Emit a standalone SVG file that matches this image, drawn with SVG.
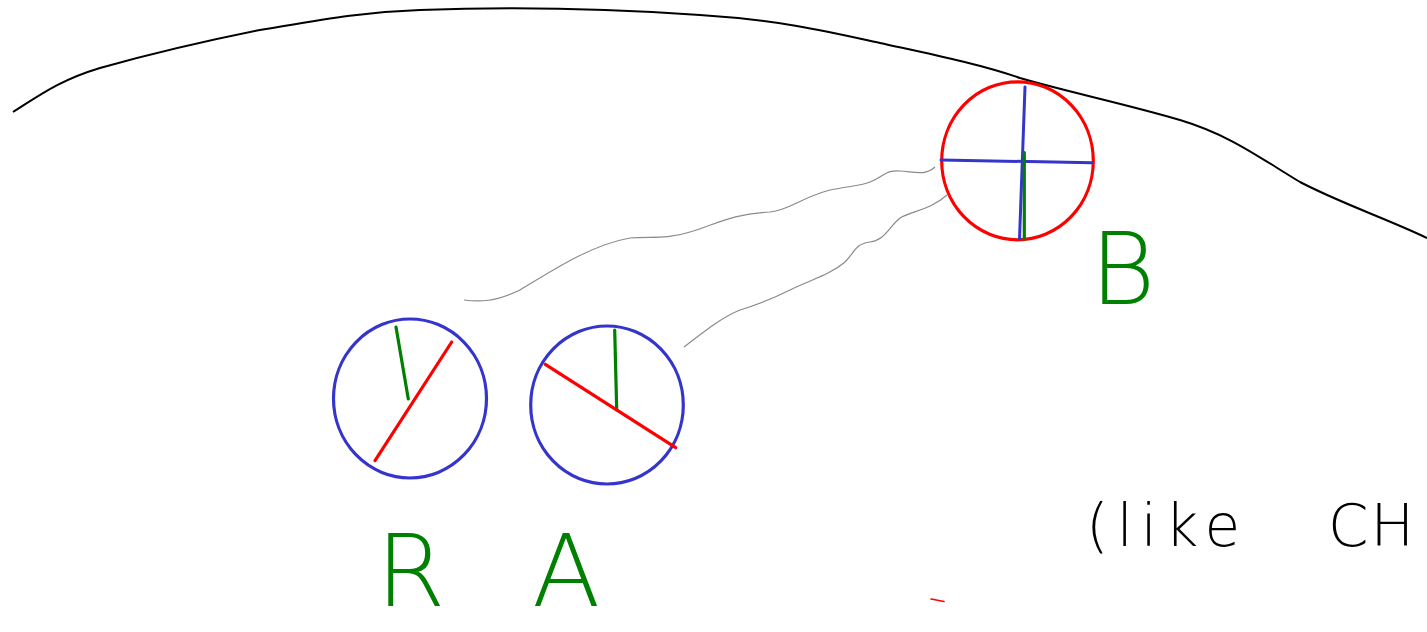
<svg xmlns="http://www.w3.org/2000/svg" width="1427" height="632" viewBox="0 0 1427 632">
<style>
.ring-blue{fill:none;stroke:#3535cc;stroke-width:3.2}
.ring-red{fill:none;stroke:#ff0000;stroke-width:3.2}
.ln-red{stroke:#ff0000;stroke-width:3.2;stroke-linecap:round}
.ln-green{stroke:#008000;stroke-width:3.2;stroke-linecap:round}
.ln-blue{stroke:#3535cc;stroke-width:3;stroke-linecap:round}
.conn{fill:none;stroke:#8a8a8a;stroke-width:1.2}
.hand{font-family:"DejaVu Sans","Liberation Sans",sans-serif;font-weight:200}
.lbl{fill:#008000;font-size:100px}
</style>
<rect width="1427" height="632" fill="#ffffff"/>
<g id="horizon">
<path d="M13,112 C40,95 60,80 100,68 C150,54 200,42 260,30 C320,20 360,12 420,10 C500,7 600,8 700,15 C780,20 830,32 880,43 C930,54 980,64 1020,78 C1060,90 1130,105 1180,120 C1230,135 1260,158 1300,182 C1340,203 1390,220 1427,238" fill="none" stroke="#000" stroke-width="2"/>
</g>
<g id="connectors">
<path class="conn" d="M464,300 C480,302 495,302 520,290 C550,272 590,245 630,238 C650,236 665,240 690,232 C715,225 730,214 770,212 C790,210 800,198 830,190 C850,186 860,186 870,182 C885,176 885,170 900,171 C915,172 925,176 935,167"/>
<path class="conn" d="M684,347 C700,335 720,318 740,310 C760,304 770,300 790,290 C810,280 830,275 845,262 C855,252 855,244 870,242 C885,240 888,228 900,218 C915,210 930,210 947,195"/>
</g>
<g id="node-B">
<ellipse class="ring-red" cx="1017.5" cy="160.8" rx="75.8" ry="79"/>
<line class="ln-blue" x1="941" y1="160" x2="1092" y2="162.7"/>
<line class="ln-blue" x1="1025" y1="87" x2="1019.5" y2="239"/>
<line class="ln-green" x1="1024.3" y1="152.5" x2="1024.3" y2="239"/>
<text class="hand lbl" x="1090" y="304">B</text>
</g>
<g id="node-R">
<ellipse class="ring-blue" cx="410" cy="398.5" rx="76.5" ry="79.5"/>
<line class="ln-green" x1="396" y1="327" x2="408.3" y2="399"/>
<line class="ln-red" x1="451.7" y1="342" x2="375" y2="460.7"/>
<text class="hand lbl" x="376" y="606">R</text>
</g>
<g id="node-A">
<ellipse class="ring-blue" cx="607" cy="405" rx="76.3" ry="79"/>
<line class="ln-green" x1="614.7" y1="330" x2="616.7" y2="410"/>
<line class="ln-red" x1="545.3" y1="364.3" x2="675.7" y2="447.7"/>
<text class="hand lbl" x="532" y="606">A</text>
</g>
<g id="note">
<text class="hand" font-size="58" fill="#000" x="1086" y="546" letter-spacing="8">(like<tspan x="1328" letter-spacing="2">CH</tspan></text>
</g>
<g id="mark">
<line x1="931" y1="599" x2="944" y2="601.5" stroke="#ff0000" stroke-width="1.6" stroke-linecap="round"/>
</g>
</svg>
